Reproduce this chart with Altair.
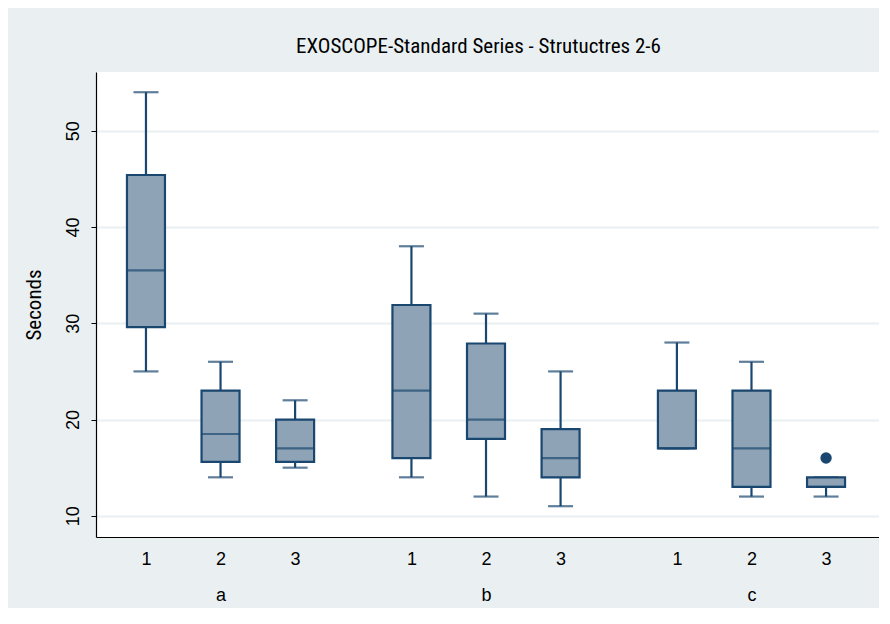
import altair as alt
import pandas as pd

# ---- data ----
groups = ["a", "b", "c"]
subs = ["1", "2", "3"]
whisk_lo = [25, 14, 15, 14, 12, 11, 17, 12, 12]
q1 = [29.6, 15.6, 15.6, 16, 18, 14, 17, 13, 13]
median = [35.5, 18.5, 17, 23, 20, 16, 17, 17, 13]
q3 = [45.4, 23, 20, 31.9, 27.9, 19, 23, 23, 14]
whisk_hi = [54, 26, 22, 38, 31, 25, 28, 26, 14]
outlier_group = ["c"]
outlier_sub = ["3"]
outlier_value = [16]

GROUP_STRIDE = 3.56  # gap between groups in box units

def pos(g, s):
    return groups.index(g) * GROUP_STRIDE + subs.index(s)

rows = []
i = 0
for g in groups:
    for s in subs:
        rows.append(dict(group=g, sub=s, pos=pos(g, s), lo=whisk_lo[i], q1=q1[i],
                         med=median[i], q3=q3[i], hi=whisk_hi[i]))
        i += 1
df = pd.DataFrame(rows)
out_df = pd.DataFrame(dict(pos=[pos(g, s) for g, s in zip(outlier_group, outlier_sub)],
                           value=outlier_value))

positions = list(df["pos"])
parts = []
for g in groups:
    for j, s in enumerate(subs):
        p = pos(g, s)
        lab = f"['{s}', '{g}']" if j == 1 else f"'{s}'"
        parts.append(f"abs(datum.value - {p}) < 0.1 ? {lab}")
label_expr = " : ".join(parts) + " : ''"

NAVY = "#1A476F"
FILL = "#8FA3B7"
BG = "#EAF0F2"
COND = "Liberation Sans Narrow, Roboto Condensed, DejaVu Sans Condensed, Roboto, sans-serif"
SANS = "Liberation Sans, Arial, sans-serif"

xscale = alt.Scale(domain=[-0.67, positions[-1] + 0.71], nice=False, zero=False, padding=0)
yscale = alt.Scale(domain=[7.8, 56.1], nice=False, zero=False, padding=0)

x_axis = alt.Axis(values=positions, labelExpr=label_expr, title=None, ticks=False,
                  grid=False, labelFont=SANS, labelFontSize=18, labelColor="#000",
                  labelBaseline="top", labelLineHeight=36, labelPadding=13,
                  domainColor="#000", domainWidth=1.2, labelFlush=False)
y_axis = alt.Axis(values=[10, 20, 30, 40, 50], title="Seconds", labelAngle=270,
                  labelAlign="center", labelBaseline="bottom", labelFont=SANS,
                  labelFontSize=18, labelColor="#000", labelPadding=9,
                  tickSize=5, tickColor="#000", domainColor="#000", domainWidth=1.2,
                  gridColor=BG, gridWidth=2, titleFont=COND, titleFontSize=21,
                  titleFontWeight="normal", titleColor="#000", titlePadding=20)

base = alt.Chart(df)
x_enc = alt.X("pos:Q", scale=xscale, axis=x_axis)

whisk = base.mark_rule(color=NAVY, strokeWidth=2.2).encode(
    x=x_enc, y=alt.Y("lo:Q", scale=yscale, axis=y_axis), y2="hi:Q")
cap_lo = base.mark_tick(color=NAVY, orient="horizontal", size=25, thickness=2.2).encode(
    x="pos:Q", y="lo:Q")
cap_hi = base.mark_tick(color=NAVY, orient="horizontal", size=25, thickness=2.2).encode(
    x="pos:Q", y="hi:Q")
box = base.mark_bar(size=38, fill=FILL, stroke=NAVY, strokeWidth=2.2).encode(
    x="pos:Q", y="q1:Q", y2="q3:Q")
med = base.mark_tick(color=NAVY, orient="horizontal", size=38, thickness=2.2).encode(
    x="pos:Q", y="med:Q")
outl = alt.Chart(out_df).mark_point(filled=True, color=NAVY, size=130, opacity=1).encode(
    x="pos:Q", y="value:Q")

chart = alt.layer(whisk, cap_lo, cap_hi, box, med, outl).properties(
    width=783, height=465,
    autosize=alt.AutoSizeParams(type="none"),
    padding={"left": 88, "top": 64, "right": 0, "bottom": 71},
    background=BG,
    title=alt.TitleParams("EXOSCOPE-Standard Series - Strutuctres 2-6", font=COND,
                          fontSize=21, fontWeight="normal", color="#000",
                          anchor="middle", offset=15, dx=-9),
).configure_view(fill="white", stroke=None)

chart.save("out.html", embed_options={"renderer": "svg", "actions": False})
